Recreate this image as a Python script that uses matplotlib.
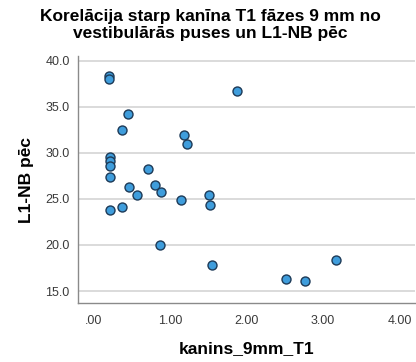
import matplotlib
matplotlib.use('Agg')
import matplotlib.pyplot as plt

plt.rcParams['font.family'] = ['Liberation Sans', 'DejaVu Sans']

# kanins_9mm_T1 vs L1-NB pēc
kanins_9mm_T1 = [0.21, 0.21, 1.87, 0.45, 0.37, 1.19, 1.22, 0.22, 0.22, 0.22,
                 0.22, 0.72, 0.47, 0.80, 0.57, 0.88, 1.15, 1.51, 1.52, 0.22,
                 0.37, 0.87, 1.55, 2.51, 2.76, 3.17]
l1_nb_pec = [38.37, 38.0, 36.74, 34.24, 32.43, 31.96, 31.01, 29.53, 29.06, 28.62,
             27.42, 28.22, 26.27, 26.55, 25.43, 25.72, 24.86, 25.43, 24.35, 23.8,
             24.16, 20.03, 17.83, 16.3, 16.12, 18.34]

x_ticks = [0, 1, 2, 3, 4]
x_tick_labels = ['.00', '1.00', '2.00', '3.00', '4.00']
y_ticks = [15, 20, 25, 30, 35, 40]
y_tick_labels = ['15.0', '20.0', '25.0', '30.0', '35.0', '40.0']

fig = plt.figure(figsize=(4.16, 3.62), dpi=100)
ax = fig.add_axes([0.1875, 0.163, 0.81, 0.682])

ax.scatter(kanins_9mm_T1, l1_nb_pec, s=42, color='#3f9ddc',
           edgecolors='#1d3a57', linewidths=1.0, zorder=3)

ax.set_xlim(-0.2, 4.2)
ax.set_ylim(13.7, 40.5)

ax.set_xticks(x_ticks)
ax.set_xticklabels(x_tick_labels)
ax.set_yticks(y_ticks)
ax.set_yticklabels(y_tick_labels)
ax.tick_params(axis='both', length=0, labelsize=9, colors='#3a3a3a')
ax.tick_params(axis='x', pad=9)
ax.tick_params(axis='y', pad=6)

ax.grid(True, axis='y', color='#d4d4d4', linewidth=1.2)
ax.set_axisbelow(True)

for side in ['top', 'right']:
    ax.spines[side].set_visible(False)
for side in ['left', 'bottom']:
    ax.spines[side].set_color('#8a8a8a')
    ax.spines[side].set_linewidth(1.0)

ax.set_xlabel('kanins_9mm_T1', fontsize=12.5, fontweight='bold', labelpad=10)
ax.set_ylabel('L1-NB pēc', fontsize=12.5, fontweight='bold', labelpad=8)

fig.text(0.505, 0.975, 'Korelācija starp kanīna T1 fāzes 9 mm no\nvestibulārās puses un L1-NB pēc',
         ha='center', va='top', fontsize=12.5, fontweight='bold', linespacing=1.15)

fig.savefig('out.png', dpi=100)
